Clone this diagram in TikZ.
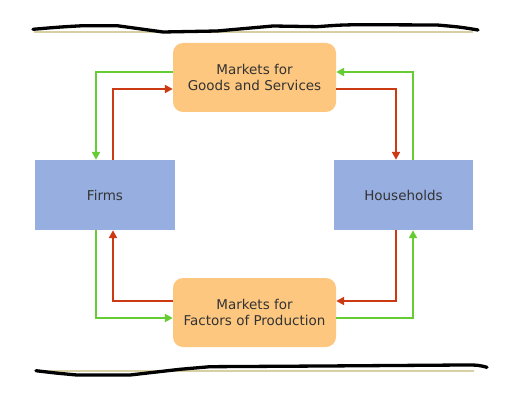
\documentclass[tikz,border=0pt]{standalone}
\usepackage{fontspec}
\setmainfont{DejaVu Sans}
\usetikzlibrary{arrows.meta}
\definecolor{boxorange}{HTML}{FDC77F}
\definecolor{boxblue}{HTML}{97AEE0}
\definecolor{flowgreen}{HTML}{66CC33}
\definecolor{flowred}{HTML}{CC3A14}
\definecolor{tanline}{HTML}{D8CFA4}
\tikzset{
  market/.style={rectangle, rounded corners=10pt, fill=boxorange, minimum width=163pt, minimum height=69pt, align=center, inner sep=0pt, font=\fontsize{13.5}{15.5}\selectfont, text=black!80},
  agent/.style={rectangle, fill=boxblue, minimum width=140pt, minimum height=70pt, inner sep=0pt, font=\fontsize{13.5}{15.5}\selectfont, text=black!80},
  gline/.style={draw=flowgreen, line width=2pt, -{Triangle[length=8pt,width=8pt]}},
  rline/.style={draw=flowred, line width=2pt, -{Triangle[length=8pt,width=8pt]}},
}
\begin{document}
\begin{tikzpicture}[x=1pt,y=-1pt]
\useasboundingbox (0,0) rectangle (513,398);
% decorative lines
\draw[tanline, line width=2.2pt] (34,32.3) -- (473,32.3);
\draw[black, line width=3.3pt, line cap=round] (33,29.3) .. controls (60,27) .. (83,25.7) -- (117,25.7) .. controls (140,28) .. (163,32) .. controls (190,32) .. (217,31) .. controls (245,28) .. (273,26) -- (317,26.7) .. controls (340,25) .. (360,24.7) -- (437,25) .. controls (460,27) .. (478,30);
\draw[tanline, line width=2.2pt] (35,371) -- (474,371);
\draw[black, line width=3.3pt, line cap=round] (36,370.7) .. controls (55,373) .. (77,375) -- (130,375) .. controls (155,373) .. (180,369.3) .. controls (195,367.5) .. (210,366.7) -- (323,366) -- (463,365) .. controls (478,365) .. (487,367.3);
% nodes
\node[market] (goods) at (254.5,77.5) {Markets for\\Goods and Services};
\node[market] (factors) at (254.5,312.5) {Markets for\\Factors of Production};
\node[agent] (firms) at (105,195) {Firms};
\node[agent, minimum width=139pt] (house) at (403.5,195) {Households};
% flows
\draw[gline] (goods.west |- 0,72) -| (firms.north -| 96,0);
\draw[rline] (firms.north -| 113,0) |- (goods.west |- 0,89);
\draw[rline] (goods.east |- 0,89) -| (house.north -| 396,0);
\draw[gline] (house.north -| 413,0) |- (goods.east |- 0,72);
\draw[rline] (house.south -| 396,0) |- (factors.east |- 0,301);
\draw[gline] (factors.east |- 0,318) -| (house.south -| 413,0);
\draw[rline] (factors.west |- 0,301) -| (firms.south -| 113,0);
\draw[gline] (firms.south -| 96,0) |- (factors.west |- 0,318);
\end{tikzpicture}
\end{document}
